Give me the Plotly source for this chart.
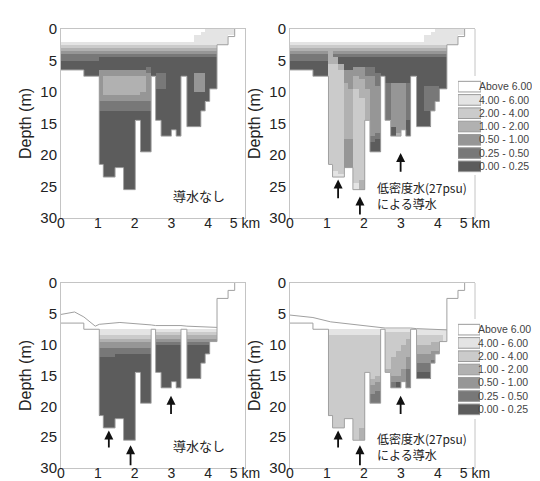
import plotly.graph_objects as go

# ---------------- data ----------------
# model column edges (km) and bottom depth of each column (m)
COL_EDGES = [0.0, 0.31, 0.62, 0.83, 1.04, 1.15, 1.31, 1.47, 1.58, 1.70, 1.86, 2.02, 2.16, 2.30,
             2.45, 2.57, 2.72, 2.86, 3.00, 3.13, 3.26, 3.42, 3.61, 3.80, 3.92, 4.04, 4.14, 4.24,
             4.54, 4.72]
BOTTOM = [6.5, 6.5, 7.5, 7.5, 21.5, 23.5, 23.5, 22.0, 22.0, 25.5, 25.5, 14.5, 19.5, 19.5, 7.5,
          14.5, 17.0, 17.0, 16.0, 17.0, 7.5, 15.5, 15.5, 13.0, 11.5, 9.5, 9.5, 2.5, 1.2]
ROW_STEP = 0.5  # m per row of the class profiles

CLASS_LABELS = ["0.00 - 0.25", "0.25 - 0.50", "0.50 - 1.00", "1.00 - 2.00",
                "2.00 - 4.00", "4.00 - 6.00", "Above 6.00"]
CLASS_COLORS = ["#5c5c5c", "#787878", "#969696", "#b1b1b1", "#cbcbcb", "#e4e4e4", "#ffffff"]

# class profiles per column, top to bottom, run-length coded ("class*rows"; "." = no water)
TL_PROFILES = (["6*4,5,4,3,2,1*2,0*60"] * 4
               + ["6*4,5,4,3,2,1,0*4,2*10,1*3,0*60"]
               + ["6*4,5,4,3,2,1,0*4,2*2,3*6,2*2,1*3,0*60"] * 7
               + ["6*4,5,4,3,2,1,0*4,2*2,3*5,2*3,1*3,0*60",
                  "6*4,5,4,3,2,1,0*3,1*2,2*9,1*3,0*60",
                  "6*4,5,4,3,2,1,0*60",
                  "6*4,5,4,3,2,1,0*5,1*5,0*60",
                  "6*4,5,4,3,2,1,0*5,1*5,0*60"]
               + ["6*4,5,4,3,2,1,0*60"] * 5
               + ["6*2,5*3,4,3,2,1,0*5,2*6,0*60",
                  "6,5*4,4,3,2,1,0*5,2*6,0*60"]
               + ["5*5,4,3,2,1,0*60"] * 3
               + ["5*60", "5*60"])

TR_PROFILES = (["6*4,5,4,3,2,1*2,0*60"] * 4
               + ["6*4,5,4,3*5,4*60",
                  "6*4,5,4,3,2,1,3*2,4*34,5*60",
                  "6*4,5,4,3,2,1,0*2,3*2,4*33,5*60",
                  "6*4,5,4,3,2,1,0*4,2*4,3*18,2*60",
                  "6*4,5,4,3,2,1,0*4,2*6,3*16,2*60",
                  "6*4,5,4,3,2,1,0*3,2*3,3*4,4*30,5*60",
                  "6*4,5,4,3,2,1,0*3,2*4,3*6,4*26,3*60",
                  "6*4,5,4,3,2,1,0*3,1*3,2*4,3*60",
                  "6*4,5,4,3,2,1,0*3,1*3,2*19,1*2,0*60",
                  "6*4,5,4,3,2,1,0*5,1*4,2*15,1*2,0*60",
                  "6*4,5,4,3,2,1,0*60",
                  "6*4,5,4,3,2,1,0*8,1*60",
                  "6*4,5,4,3,2,1,0*8,2*14,0*60",
                  "6*4,5,4,3,2,1,0*8,2*16,3*60",
                  "6*4,5,4,3,2,1,0*8,2*60",
                  "6*4,5,4,3,2,1,0*8,1*12,0*60",
                  "6*4,5,4,3,2,1,0*60",
                  "6*4,5,4,3,2,1,0*60",
                  "6*2,5*3,4,3,2,1,0*9,1*8,0*60",
                  "6,5*4,4,3,2,1,0*9,1*60",
                  "5*5,4,3,2,1,0*9,1*60",
                  "5*5,4,3,2,1,0*60",
                  "5*5,4,3,2,1,0*60",
                  "5*60", "5*60"])

BL_PROFILES = ([".*10,6*60"] * 2
               + [".*12,6*60", ".*13,6*60"]
               + [".*13,6*2,5*2,4,3,2*2,1*3,0*60"] * 3
               + [".*13,6*2,5*2,4,3,2*2,1*2,0*60"] * 7
               + [""]
               + [".*14,6,5,4,3,2,1,0*60"] * 5
               + [""]
               + [".*14,6,5,4,3,2,1,0*60"] * 6
               + ["", ""])

BR_PROFILES = ([".*10,6*60"] * 2
               + [".*12,6*60", ".*13,6*60"]
               + [".*14,6,5*2,4*60"] * 6
               + [".*14,6,5*2,4*30,3*60",
                  ".*14,6,5*2,4*60",
                  ".*14,6,5*2,4*14,3*2,2*3,1*60",
                  ".*14,6,5*2,4*13,3*2,2*3,1*60",
                  "",
                  ".*14,6,5,4*12,3*60",
                  ".*14,6,5,4*8,3*6,2*2,1*60",
                  ".*14,6,5,4*6,3*8,2*2,0*60",
                  ".*14,6,5,4*4,3*8,2*60",
                  ".*14,6,5,4*2,3*6,2*4,1*60",
                  "",
                  ".*14,6,5*2,4*3,3*3,2*3,1*3,0*60",
                  ".*14,6,5*2,4*3,3*3,2*3,1*3,0*60",
                  ".*14,6,5*2,4*2,3*3,2*3,1*60",
                  ".*14,6,5*2,4*2,3*3,2*60",
                  ".*14,6,5*2,4*60",
                  ".*14,6,5*60",
                  "", ""])

# water-surface line of the lower panels
SURF_BL_X = [0.0, 0.37, 0.62, 0.93, 1.04, 1.6, 2.45, 2.57, 3.26, 3.42, 4.24]
SURF_BL_Y = [5.1, 4.7, 5.5, 7.0, 6.7, 6.4, 6.8, 6.9, 6.9, 7.0, 7.2]
SURF_BR_X = [0.0, 0.62, 1.1, 1.76, 2.45, 2.57, 3.26, 3.42, 4.24]
SURF_BR_Y = [5.2, 5.6, 6.3, 6.8, 7.2, 7.3, 7.3, 7.4, 7.6]

# arrows (x km, tail depth, head depth)
ARROW_X = [1.30, 1.89, 2.99]
ARROW_TR_TAIL = [27.1, 29.7, 22.9]
ARROW_TR_HEAD = [23.9, 26.6, 19.7]
ARROW_B_TAIL = [26.9, 29.8, 21.5]
ARROW_B_HEAD = [23.9, 26.3, 18.3]

X_TICKS = [0, 1, 2, 3, 4, 5]
X_TICKTEXT = ["0", "1", "2", "3", "4", "5 km"]
Y_TICKS = [0, 5, 10, 15, 20, 25, 30]

TEXT_NONE = "導水なし"
TEXT_LOW = "低密度水(27psu)<br>による導水"


# ---------------- build ----------------
def expand(profile, bottom, nrows):
    vals = []
    if profile:
        for tok in profile.split(","):
            if "*" in tok:
                c, k = tok.split("*")
                k = int(k)
            else:
                c, k = tok, 1
            vals += [None if c == "." else int(c)] * k
    vals = (vals + [None] * nrows)[:nrows]
    for r in range(nrows):
        if r * ROW_STEP + ROW_STEP / 2 > bottom:
            vals[r] = None
    return vals


NROWS = 60
DEPTH_EDGES = [i * ROW_STEP for i in range(NROWS + 1)]


def grid(profiles):
    cols = [expand(p, b, NROWS) for p, b in zip(profiles, BOTTOM)]
    return [[cols[c][r] for c in range(len(cols))] for r in range(NROWS)]


colorscale = []
n = len(CLASS_COLORS)
for i, c in enumerate(CLASS_COLORS):
    colorscale.append([i / n, c])
    colorscale.append([(i + 1) / n, c])

# bathymetry outline
OUT_X, OUT_Y = [], []
for i, b in enumerate(BOTTOM):
    OUT_X += [COL_EDGES[i], COL_EDGES[i + 1]]
    OUT_Y += [b, b]
OUT_X.append(COL_EDGES[-1])
OUT_Y.append(0)

LINE_GREY = "#a0a0a0"
fig = go.Figure()
panels = [("x", "y", TL_PROFILES), ("x2", "y2", TR_PROFILES),
          ("x3", "y3", BL_PROFILES), ("x4", "y4", BR_PROFILES)]
for xa, ya, prof in panels:
    fig.add_trace(go.Heatmap(x=COL_EDGES, y=DEPTH_EDGES, z=grid(prof), colorscale=colorscale,
                             zmin=-0.5, zmax=n - 0.5, showscale=False, zsmooth=False,
                             hoverinfo="skip", xaxis=xa, yaxis=ya))
    fig.add_trace(go.Scatter(x=OUT_X, y=OUT_Y, mode="lines", line=dict(color=LINE_GREY, width=1),
                             showlegend=False, hoverinfo="skip", xaxis=xa, yaxis=ya))

fig.add_trace(go.Scatter(x=SURF_BL_X, y=SURF_BL_Y, mode="lines", line=dict(color=LINE_GREY, width=1),
                         showlegend=False, hoverinfo="skip", xaxis="x3", yaxis="y3"))
fig.add_trace(go.Scatter(x=SURF_BR_X, y=SURF_BR_Y, mode="lines", line=dict(color=LINE_GREY, width=1),
                         showlegend=False, hoverinfo="skip", xaxis="x4", yaxis="y4"))

# legend boxes
for xa, ya in [("x5", "y5"), ("x6", "y6")]:
    fig.add_trace(go.Bar(x=[1] * n, y=CLASS_LABELS, orientation="h", width=0.8,
                         marker=dict(color=CLASS_COLORS, line=dict(color="#9a9a9a", width=1)),
                         showlegend=False, hoverinfo="skip", xaxis=xa, yaxis=ya))

W, H = 540, 481


def xd(a, b):
    return [a / W, b / W]


def yd(top, bot):
    return [1 - bot / H, 1 - top / H]


FRAME = "#c4c4c4"
FONT = "Liberation Sans, Arial, sans-serif"
tickfont = dict(family=FONT, size=15, color="#222")
xtickfont = dict(family=FONT, size=14, color="#222")


def xax(dom, anchor):
    return dict(domain=dom, anchor=anchor, range=[0, 5], tickvals=X_TICKS, ticktext=X_TICKTEXT,
                showgrid=False, zeroline=False, showline=True, linecolor=FRAME, linewidth=1,
                mirror=True, ticks="", tickfont=xtickfont, automargin=False,
                ticklabelstandoff=-8)


def yax(dom, anchor, mirror):
    return dict(domain=dom, anchor=anchor, range=[30, 0], tickvals=Y_TICKS, showgrid=False,
                zeroline=False, showline=True, linecolor=FRAME, linewidth=1, mirror=mirror,
                ticks="", tickfont=tickfont, automargin=False,
                title=dict(text="Depth (m)", font=dict(family=FONT, size=16, color="#222"),
                           standoff=4))


TOP = (21, 210)
BOT = (275, 460)
LX = (53, 237)
RX = (282, 467)

legend_x = dict(range=[0, 1], visible=False, fixedrange=True)
legend_y = dict(range=[-0.5, n - 0.5], side="right", showgrid=False, zeroline=False,
                showline=False, ticks="", tickfont=dict(family=FONT, size=10.5, color="#444"),
                automargin=False, ticklabelstandoff=-3)

fig.update_layout(
    width=W, height=H, margin=dict(l=0, r=0, t=0, b=0),
    paper_bgcolor="white", plot_bgcolor="white", showlegend=False,
    xaxis=xax(xd(*LX), "y"), yaxis=yax(yd(*TOP), "x", True),
    xaxis2=xax(xd(*RX), "y2"), yaxis2=yax(yd(*TOP), "x2", False),
    xaxis3=xax(xd(*LX), "y3"), yaxis3=yax(yd(*BOT), "x3", True),
    xaxis4=xax(xd(*RX), "y4"), yaxis4=yax(yd(*BOT), "x4", False),
    xaxis5=dict(domain=xd(450, 473), anchor="y5", **legend_x),
    yaxis5=dict(domain=yd(72, 165), anchor="x5", **legend_y),
    xaxis6=dict(domain=xd(450, 472), anchor="y6", **legend_x),
    yaxis6=dict(domain=yd(315, 408), anchor="x6", **legend_y),
    bargap=0.2,
)

# right frame edges of right panels, broken where the legend sits
shapes = []
for xa, ya, (top, bot), (lt, lb) in [("x2", "y2", TOP, (68, 167)), ("x4", "y4", BOT, (311, 411))]:
    hgt = bot - top
    shapes.append(dict(type="line", xref=f"{xa} domain", yref=f"{ya} domain", x0=1, x1=1,
                       y0=0, y1=(bot - lb) / hgt, line=dict(color=FRAME, width=1)))
    shapes.append(dict(type="line", xref=f"{xa} domain", yref=f"{ya} domain", x0=1, x1=1,
                       y0=(bot - lt) / hgt, y1=1, line=dict(color=FRAME, width=1)))
fig.update_layout(shapes=shapes)

CJK = "Noto Sans CJK JP"
ann = []
ann.append(dict(x=3.75, y=26.4, xref="x", yref="y", text=TEXT_NONE, showarrow=False,
                font=dict(family=CJK, size=13, color="#222")))
ann.append(dict(x=3.75, y=26.4, xref="x3", yref="y3", text=TEXT_NONE, showarrow=False,
                font=dict(family=CJK, size=13, color="#222")))
for xa, ya, yc in [("x2", "y2", 26.5), ("x4", "y4", 26.5)]:
    ann.append(dict(x=2.3, y=yc, xref=xa, yref=ya, text=TEXT_LOW, showarrow=False,
                    xanchor="left", align="left",
                    font=dict(family=CJK, size=12, color="#222")))
for xa, ya, tails, heads in [("x2", "y2", ARROW_TR_TAIL, ARROW_TR_HEAD),
                             ("x3", "y3", ARROW_B_TAIL, ARROW_B_HEAD),
                             ("x4", "y4", ARROW_B_TAIL, ARROW_B_HEAD)]:
    for ax_, t, h in zip(ARROW_X, tails, heads):
        ann.append(dict(x=ax_, y=h, ax=ax_, ay=t, xref=xa, yref=ya, axref=xa, ayref=ya,
                        text="", showarrow=True, arrowhead=2, arrowsize=1, arrowwidth=1.8,
                        arrowcolor="#111"))
fig.update_layout(annotations=ann)

fig.write_html("out.html")
